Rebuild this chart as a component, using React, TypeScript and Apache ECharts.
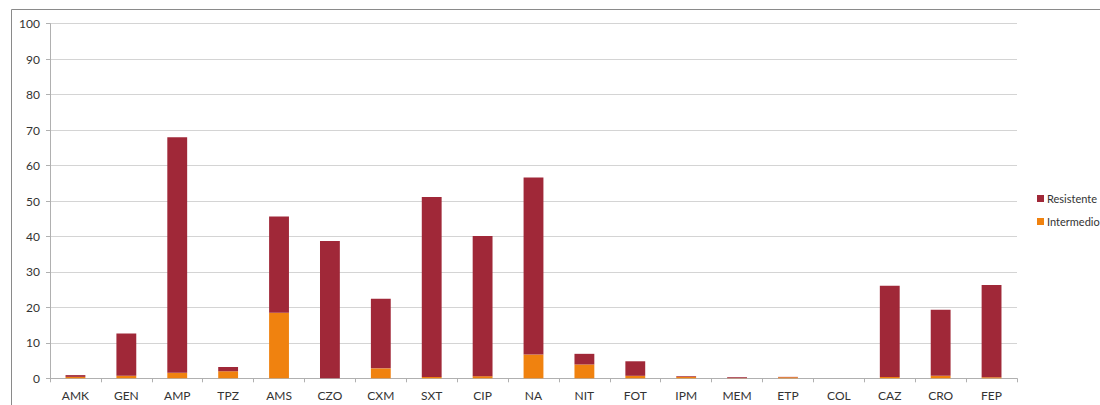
import React, { useEffect, useRef } from "react";
import * as echarts from "echarts";

const categories = ["AMK", "GEN", "AMP", "TPZ", "AMS", "CZO", "CXM", "SXT", "CIP", "NA", "NIT", "FOT", "IPM", "MEM", "ETP", "COL", "CAZ", "CRO", "FEP"];
const intermedio = [0.4, 0.7, 1.6, 2.0, 18.5, 0, 2.8, 0.4, 0.6, 6.7, 3.9, 0.7, 0.4, 0.05, 0.3, 0, 0.4, 0.7, 0.3];
const resistente = [0.5, 11.9, 66.4, 1.2, 27.1, 38.7, 19.6, 50.7, 39.5, 49.9, 3.0, 4.1, 0.2, 0.25, 0.1, 0, 25.7, 18.6, 26.0];
const yTicks = { min: 0, max: 100, interval: 10 };

const FONT = "Lato";
const TEXT = "#333333";

export default function App() {
  const ref = useRef<HTMLDivElement>(null);
  useEffect(() => {
    if (!ref.current) return;
    const chart = echarts.init(ref.current, undefined, { renderer: "svg" });
    chart.setOption({
      animation: false,
      backgroundColor: "#ffffff",
      textStyle: { fontFamily: FONT },
      graphic: [
        {
          type: "rect",
          shape: { x: 11.5, y: 9.5, width: 1200, height: 500 },
          style: { fill: "none", stroke: "#8a8a8a", lineWidth: 1 },
          silent: true,
          z: -1,
        },
      ],
      legend: {
        orient: "vertical",
        left: 1032,
        top: 188,
        itemWidth: 7,
        itemHeight: 7,
        itemGap: 12,
        icon: "rect",
        data: ["Resistente", "Intermedio"],
        textStyle: { fontFamily: FONT, fontSize: 11, color: TEXT, padding: [0, 0, 0, -2] },
      },
      grid: { left: 50, right: 83, top: 23.7, bottom: 26.7, containLabel: false },
      xAxis: {
        type: "category",
        data: categories,
        axisLine: { lineStyle: { color: "#b0b0b0" } },
        axisTick: { show: true, length: 4, lineStyle: { color: "#b0b0b0" } },
        axisLabel: { color: TEXT, fontSize: 12, fontFamily: FONT, margin: 11, interval: 0 },
      },
      yAxis: {
        type: "value",
        min: yTicks.min,
        max: yTicks.max,
        interval: yTicks.interval,
        axisLine: { show: true, lineStyle: { color: "#b0b0b0" } },
        axisTick: { show: true, length: 4, lineStyle: { color: "#b0b0b0" } },
        axisLabel: { color: TEXT, fontSize: 12, fontFamily: FONT, margin: 10 },
        splitLine: { lineStyle: { color: "#d4d4d4", width: 1 } },
      },
      series: [
        {
          name: "Intermedio",
          type: "bar",
          stack: "total",
          data: intermedio,
          barWidth: "39%",
          itemStyle: { color: "#F0820F" },
        },
        {
          name: "Resistente",
          type: "bar",
          stack: "total",
          data: resistente,
          barWidth: "39%",
          itemStyle: { color: "#A02838" },
        },
      ],
    });
    return () => chart.dispose();
  }, []);
  return (
    <div
      ref={ref}
      style={{ position: "absolute", left: 0, top: 0, width: 1100, height: 405 }}
    />
  );
}
